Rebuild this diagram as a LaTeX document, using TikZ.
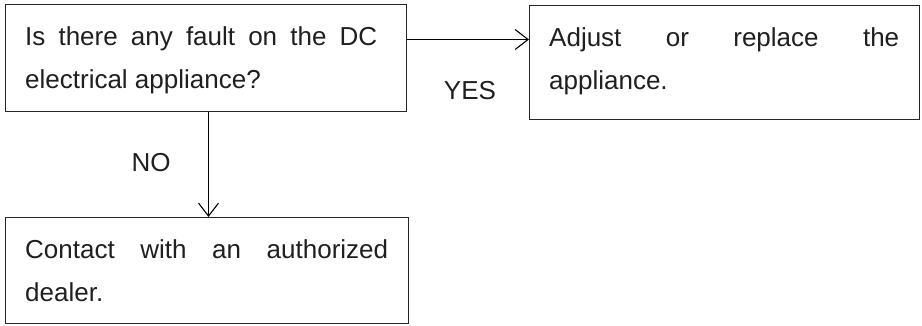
\documentclass[tikz,border=0pt]{standalone}
\usepackage{fontspec}
\setmainfont{Liberation Sans}
\usetikzlibrary{arrows.meta,calc}
\tikzset{
  box/.style={draw=black!85, line width=1.1pt, inner sep=0pt, anchor=north west},
  txt/.style={inner sep=0pt, anchor=base west, text=black!88},
  lbl/.style={inner sep=0pt, anchor=base, text=black!88, font=\fontsize{26}{30}\selectfont},
  arr/.style={line width=1.1pt, draw=black, -{Straight Barb[length=13pt,width=20pt,line width=1.1pt]}}
}
\newcommand{\boxtext}[3]{\parbox[t]{#1}{\fontsize{26}{43}\selectfont\makebox[#1][s]{#2}\\#3}}
\begin{document}
\begin{tikzpicture}[x=1pt,y=-1pt]
\useasboundingbox (0,0) rectangle (922,325);
\node[box, minimum width=401pt, minimum height=107pt] (q) at (5,4) {};
\node[box, minimum width=390pt, minimum height=114pt] (a) at (529,5) {};
\node[box, minimum width=403pt, minimum height=106pt] (c) at (5,217) {};
\node[txt] (qt) at (25,45.5) {\boxtext{352pt}{Is there any fault on the DC}{electrical appliance?}};
\node[txt] (at) at (549,46.5) {\boxtext{350pt}{Adjust or replace the}{appliance.}};
\node[txt] (ct) at (25,258) {\boxtext{363pt}{Contact with an authorized}{dealer.}};
\coordinate (yesA) at ([yshift=-35.5pt]q.north east);
\draw[arr] (yesA) -- (yesA -| a.west);
\coordinate (noA) at ([xshift=203.5pt]q.south west);
\draw[arr] (noA) -- (noA |- c.north);
\node[lbl] (yes) at (470,99) {YES};
\node[lbl] (no) at (151,171) {NO};
\end{tikzpicture}
\end{document}
